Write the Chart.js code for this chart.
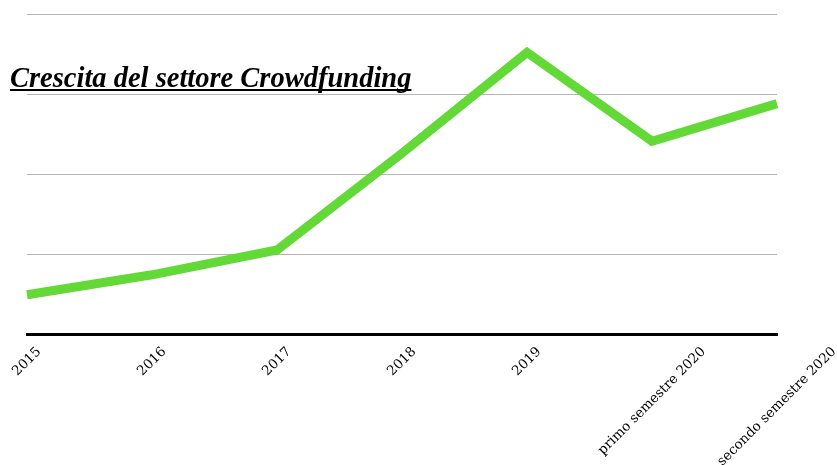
<!DOCTYPE html>
<html lang="it">
<head>
<meta charset="utf-8">
<title>Crescita del settore Crowdfunding</title>
<script src="https://cdn.jsdelivr.net/npm/chart.js@4.4.1/dist/chart.umd.min.js"></script>
<style>
  html, body { margin: 0; padding: 0; background: #fff; }
  #wrap { position: relative; width: 837px; height: 465px; }
</style>
</head>
<body>
<div id="wrap"><canvas id="crowdChart" width="837" height="465"></canvas></div>
<script>
const chartTitle = 'Crescita del settore Crowdfunding';
const periods = ['2015', '2016', '2017', '2018', '2019', 'primo semestre 2020', 'secondo semestre 2020'];
const growth = [0.49, 0.74, 1.05, 2.26, 3.52, 2.41, 2.88];
const yTicks = [0, 1, 2, 3, 4];

const LABEL_FONT = '13.5px "DejaVu Serif"';

/* x labels: rotated 45 degrees and centred under each tick */
const slantedLabels = {
    id: 'slantedLabels',
    afterDraw(chart) {
        const ctx = chart.ctx;
        const x = chart.scales.x;
        const axisY = chart.chartArea.bottom;
        ctx.save();
        ctx.font = LABEL_FONT;
        ctx.fillStyle = '#000';
        ctx.textAlign = 'center';
        ctx.textBaseline = 'middle';
        periods.forEach((label, i) => {
            const w = ctx.measureText(label).width;
            const half = (w + 13) / 2 * Math.SQRT1_2;
            const cx = x.getPixelForValue(i);
            const cy = axisY + 11 + half;
            ctx.save();
            ctx.translate(cx, cy);
            ctx.rotate(-Math.PI / 4);
            ctx.fillText(label, 0, 0);
            ctx.restore();
        });
        ctx.restore();
    }
};

/* bold italic underlined heading sitting over the plot */
const heading = {
    id: 'heading',
    afterDraw(chart) {
        const ctx = chart.ctx;
        ctx.save();
        ctx.font = 'italic bold 28.5px "Liberation Serif"';
        ctx.fillStyle = '#000';
        ctx.textAlign = 'left';
        ctx.textBaseline = 'alphabetic';
        ctx.fillText(chartTitle, 10, 87);
        const w = ctx.measureText(chartTitle).width;
        ctx.fillRect(10, 89, w, 2);
        ctx.restore();
    }
};

new Chart(document.getElementById('crowdChart'), {
    type: 'line',
    data: {
        labels: periods,
        datasets: [{
            data: growth,
            borderColor: '#62d936',
            borderWidth: 9,
            borderJoinStyle: 'miter',
            borderCapStyle: 'butt',
            pointRadius: 0,
            tension: 0,
            fill: false,
        }],
    },
    options: {
        responsive: false,
        animation: false,
        layout: { padding: { left: 27, right: 60, top: 14, bottom: 123 } },
        plugins: {
            legend: { display: false },
            title: { display: false },
            tooltip: { enabled: false },
        },
        scales: {
            x: {
                offset: false,
                grid: { display: false },
                border: { display: true, color: '#000', width: 3 },
                ticks: { display: false },
            },
            y: {
                min: yTicks[0],
                max: yTicks[yTicks.length - 1],
                afterBuildTicks: (scale) => { scale.ticks = yTicks.map(v => ({ value: v })); },
                grid: {
                    color: (c) => c.tick && c.tick.value === 0 ? 'rgba(0,0,0,0)' : '#b5b5b5',
                    lineWidth: 1,
                    drawTicks: false,
                },
                border: { display: false },
                ticks: { display: false },
            },
        },
    },
    plugins: [slantedLabels, heading],
});
</script>
</body>
</html>
